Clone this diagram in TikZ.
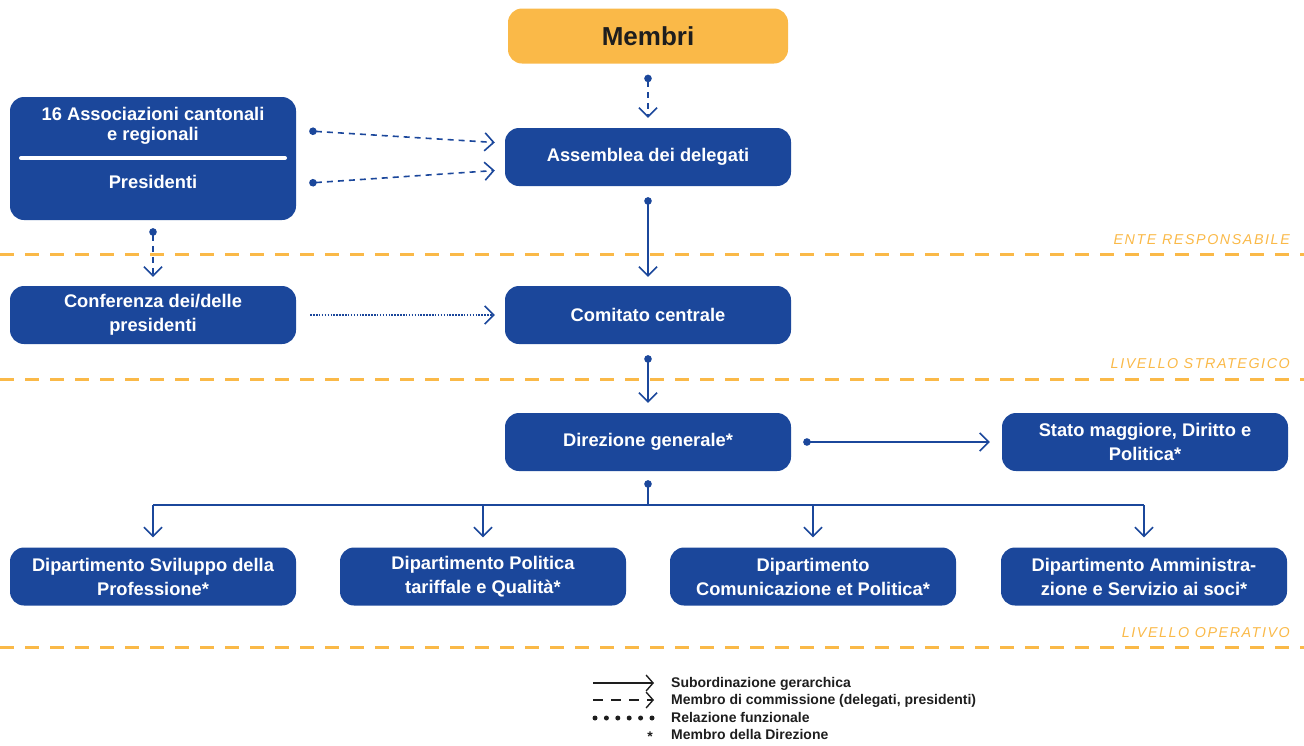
\documentclass[tikz,border=0pt]{standalone}
\usepackage{fontspec}
\setmainfont{Liberation Sans}
\newfontfamily\spaced[LetterSpace=11]{Liberation Sans}
\usetikzlibrary{arrows.meta,calc}
\definecolor{navy}{RGB}{27,71,155}
\definecolor{gold}{RGB}{250,185,72}
\definecolor{ink}{RGB}{30,30,30}
\begin{document}
\begin{tikzpicture}[x=1pt,y=-1pt,
  box/.style={fill=navy, rounded corners=14pt, minimum width=286pt, minimum height=58pt,
    inner sep=0pt, text=white, font=\bfseries\fontsize{18.3}{24}\selectfont, align=center},
  boxtext/.style={text=white, font=\bfseries\fontsize{18.3}{20}\selectfont, align=center, inner sep=0pt},
  conn/.style={navy, line width=1.6pt},
  tipend/.style={-{Straight Barb[length=9pt,width=18pt]}},
  dottip/.style={{Circle[length=7.5pt]}-{Straight Barb[length=9pt,width=18pt]}},
  dashline/.style={dash pattern=on 6pt off 5pt},
  dotline/.style={dash pattern=on 1.5pt off 1.4pt},
  levelline/.style={gold, line width=3pt, dash pattern=on 14pt off 11pt},
  levellabel/.style={gold, font=\spaced\itshape\fontsize{14.3}{14}\selectfont, anchor=base east, inner sep=0pt},
  legtext/.style={ink, font=\bfseries\fontsize{14}{14}\selectfont, anchor=base west, inner sep=0pt},
  legline/.style={ink, line width=1.4pt}
]
\useasboundingbox (0,0) rectangle (1304,745);

% level lines
\draw[levelline] (0,254) -- (1304,254);
\draw[levelline] (0,379) -- (1304,379);
\draw[levelline] (0,647) -- (1304,647);
\node[levellabel] (l1) at (1290,244) {ENTE RESPONSABILE};
\node[levellabel] (l2) at (1290,368) {LIVELLO STRATEGICO};
\node[levellabel] (l3) at (1290,637) {LIVELLO OPERATIVO};

% boxes
\node[box, fill=gold, text=ink, minimum width=280pt, minimum height=55pt,
      font=\bfseries\fontsize{26}{26}\selectfont] (mem) at (648,36) {Membri};
\node[box, minimum height=123pt] (assoc) at (153,158.5) {};
\node[boxtext] (assoct) at (153,126) {16 Associazioni cantonali\\e regionali};
\node[boxtext] (pres) at (153,182) {Presidenti};
\draw[white, line width=4pt, line cap=round] (21,158) -- (285,158);
\node[box] (ass) at (648,157) {Assemblea dei delegati};
\node[box] (conf) at (153,315) {Conferenza dei/delle\\presidenti};
\node[box] (com) at (648,315) {Comitato centrale};
\node[box] (dir) at (648,442) {Direzione generale*};
\node[box] (stato) at (1145,442) {Stato maggiore, Diritto e\\Politica*};
\node[box] (d1) at (153,576.5) {Dipartimento Sviluppo della\\Professione*};
\node[box] (d2) at (483,576.5) {Dipartimento Politica\\tariffale e Qualità*};
\node[box] (d3) at (813,576.5) {Dipartimento\\Comunicazione et Politica*};
\node[box] (d4) at (1144,576.5) {Dipartimento Amministra-\\zione e Servizio ai soci*};

% connectors
\draw[conn, dottip, dashline] ($(mem.south)+(0,11)$) -- ($(ass.north)+(0,-10)$);
\draw[conn, dottip, dashline] ($(assoc.east)+(13,-27.5)$) -- ($(ass.west)+(-10,-14.5)$);
\draw[conn, dottip, dashline] ($(assoc.east)+(13,24.5)$) -- ($(ass.west)+(-10,13.5)$);
\draw[conn, dottip] ($(ass.south)+(0,11)$) -- ($(com.north)+(0,-9)$);
\draw[conn, dottip, dashline] ($(assoc.south)+(0,8)$) -- ($(conf.north)+(0,-9)$);
\draw[conn, tipend, dotline] ($(conf.east)+(14,0)$) -- ($(com.west)+(-10,0)$);
\draw[conn, dottip] ($(com.south)+(0,11)$) -- ($(dir.north)+(0,-10)$);
\draw[conn, dottip] ($(dir.east)+(12,0)$) -- ($(stato.west)+(-12,0)$);
\coordinate (split) at ($(dir.south)+(0,34)$);
\coordinate (bl) at (d1.north |- split);
\coordinate (br) at (d4.north |- split);
\draw[conn, {Circle[length=7.5pt]}-] ($(dir.south)+(0,9)$) -- (split);
\draw[conn] (bl) -- (br);
\draw[conn, tipend] (bl) -- ($(d1.north)+(0,-10)$);
\draw[conn, tipend] (d2.north |- split) -- ($(d2.north)+(0,-10)$);
\draw[conn, tipend] (d3.north |- split) -- ($(d3.north)+(0,-10)$);
\draw[conn, tipend] (br) -- ($(d4.north)+(0,-10)$);

% legend
\coordinate (a1) at (593,683); \coordinate (b1) at (654,683);
\coordinate (a2) at (593,700); \coordinate (b2) at (654,700);
\coordinate (a3) at (595,718); \coordinate (b3) at (652,718);
\draw[legline, -{Straight Barb[length=7pt,width=16pt]}] (a1) -- (b1);
\draw[legline, dash pattern=on 9.5pt off 8.5pt, -{Straight Barb[length=7pt,width=16pt]}] (a2) -- (b2);
\draw[ink, line width=5pt, line cap=round, dash pattern=on 0pt off 11.4pt] (a3) -- (b3);
\node[legtext, anchor=base] (star) at (650,741) {*};
\node[legtext] (t1) at (671,687) {Subordinazione gerarchica};
\node[legtext] (t2) at (671,704) {Membro di commissione (delegati, presidenti)};
\node[legtext] (t3) at (671,722) {Relazione funzionale};
\node[legtext] (t4) at (671,739) {Membro della Direzione};
\end{tikzpicture}
\end{document}
